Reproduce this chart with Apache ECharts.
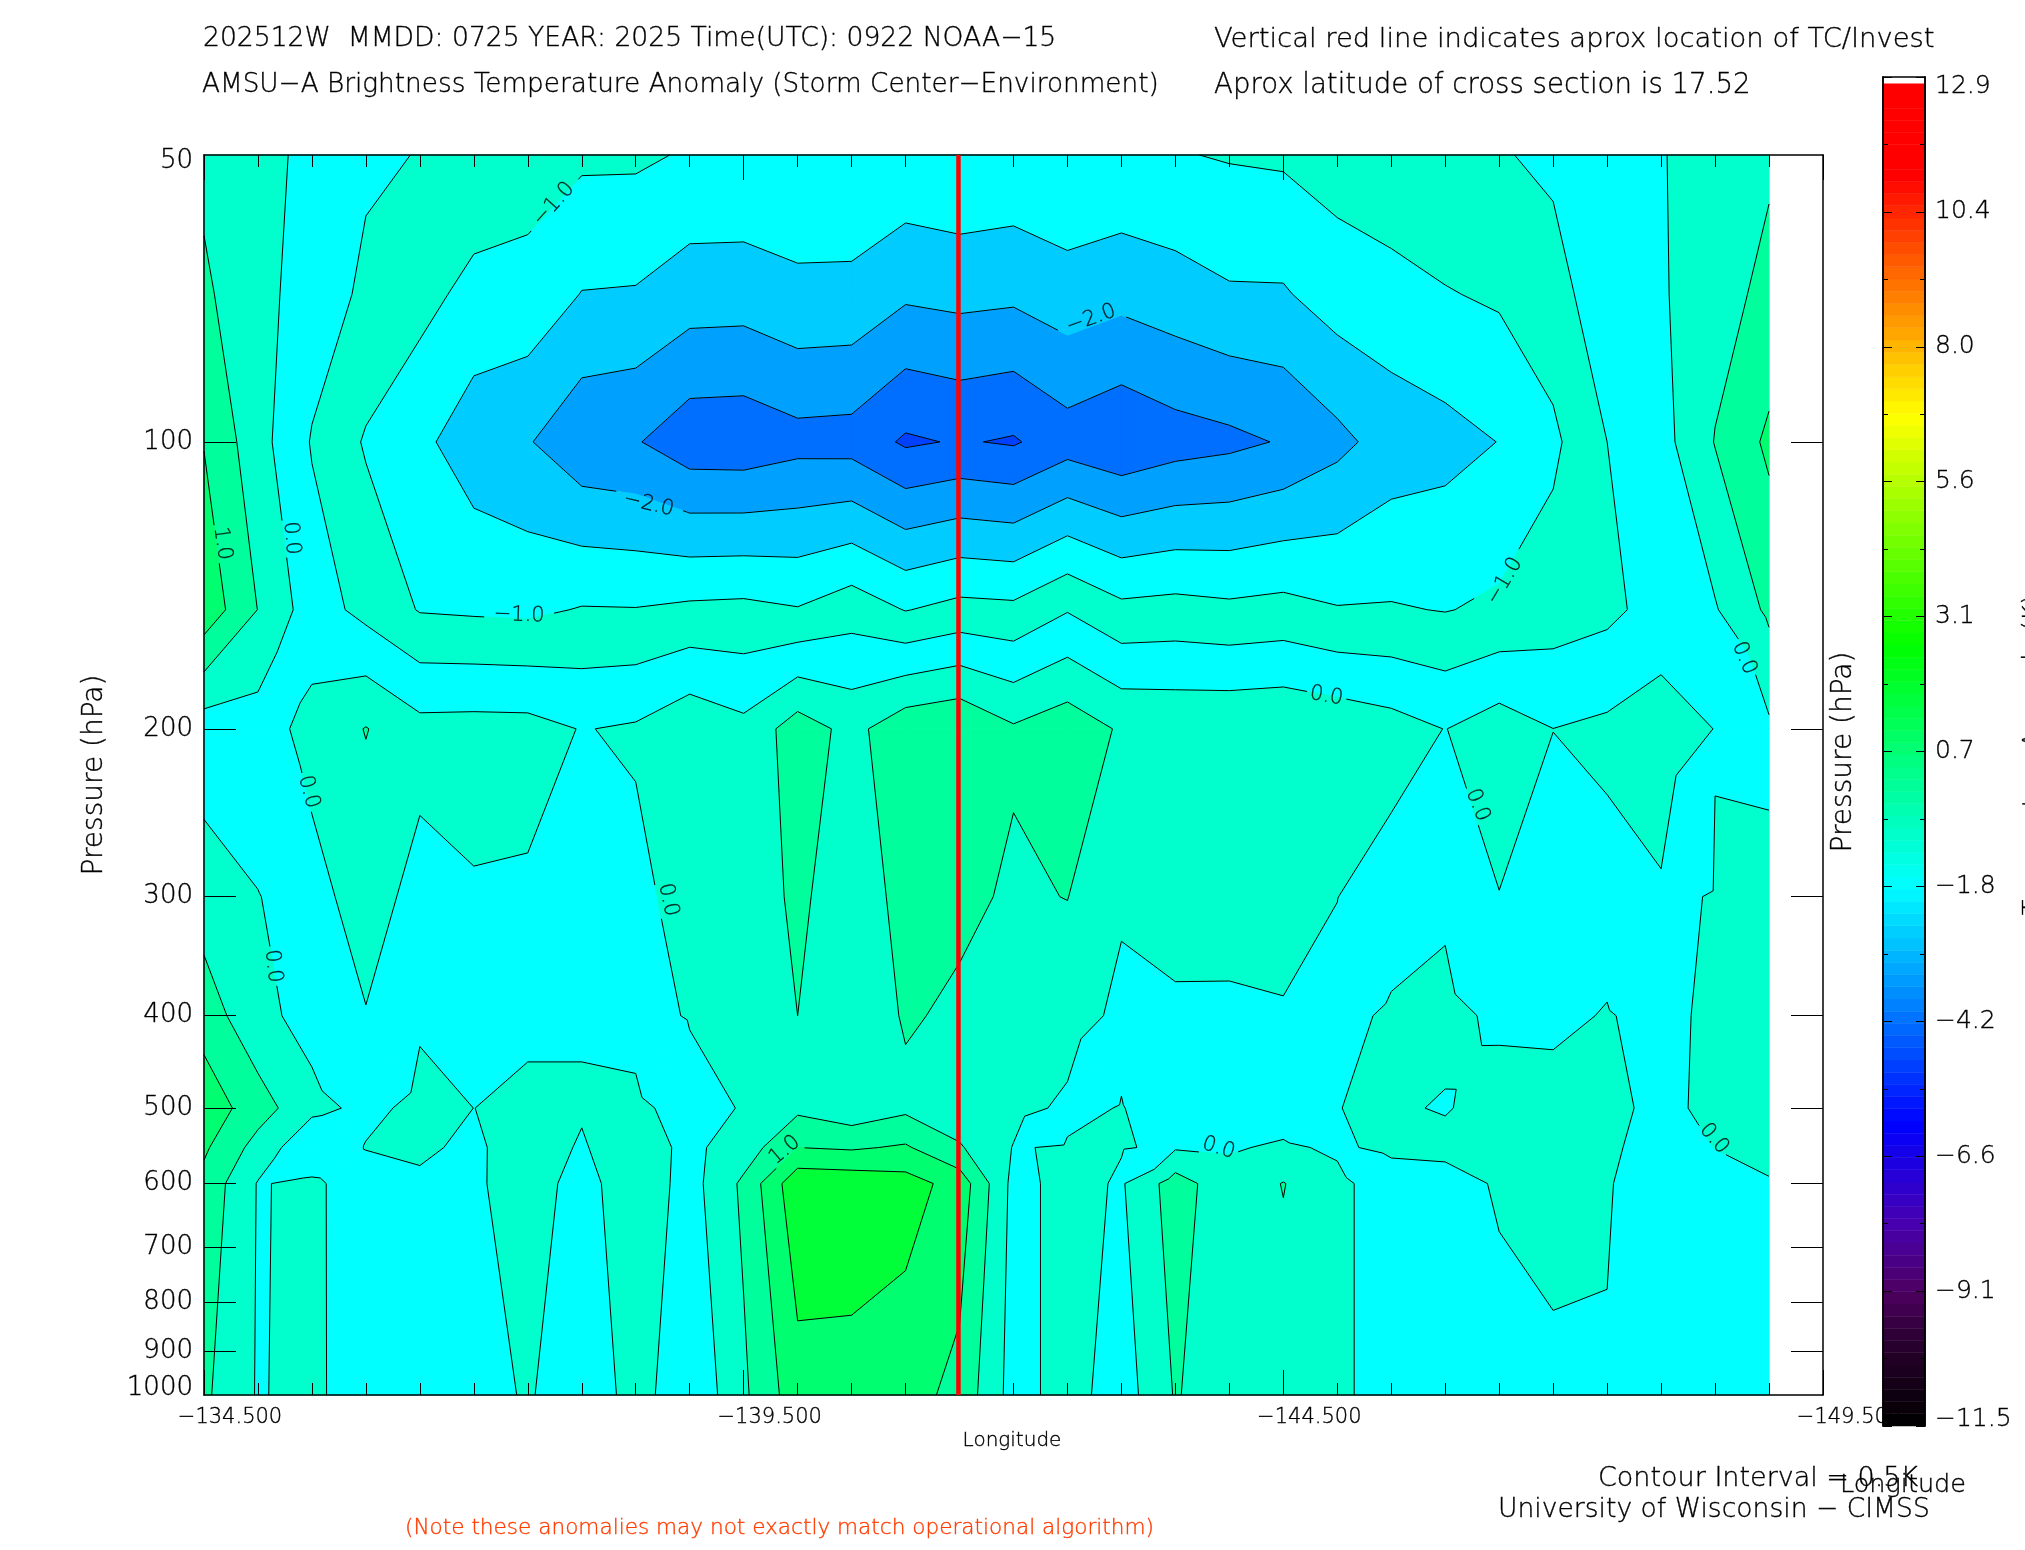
<!DOCTYPE html>
<html><head><meta charset="utf-8">
<style>html,body{margin:0;padding:0;background:#fff}#c{width:2025px;height:1550px}</style>
<script src="https://cdn.jsdelivr.net/npm/echarts@6/dist/echarts.min.js"></script>
</head><body><div id="c"></div>
<script>
// Longitude of each grid column, west-going
const lons = [-134.5,-135,-135.5,-136,-136.5,-137,-137.5,-138,-138.5,-139,-139.5,-140,-140.5,-141,-141.5,-142,-142.5,-143,-143.5,-144,-144.5,-145,-145.5,-146,-146.5,-147,-147.5,-148,-148.5,-149];
// Pressure levels (hPa) and the temperature anomaly (K) at each
const pressures = [50,70,100,150,200,300,400,500,550,600,1000];
const t50  = [.39,.14,-.11,-.43,-.515,-.62,-.777,-.91,-.915,-1.05,-1.045,-1.117,-1.07,-1.10,-1.03,-1.085,-1.02,-1.055,-1.03,-.963,-.925,-.79,-.62,-.58,-.54,-.4,-.18,-.03,.24,.435];
const t70  = [.58,.165,-.24,-.59,-.833,-1.154,-1.167,-1.517,-1.54,-1.756,-1.774,-1.61,-1.633,-1.92,-1.855,-1.9,-1.72,-1.85,-1.714,-1.556,-1.55,-1.257,-1.186,-1.03,-.93,-.7,-.19,-.056,.32,.62];
const t100 = [.98,.19,-.535,-1.05,-1.38,-1.78,-1.96,-2.37,-2.46,-2.81,-2.83,-2.67,-2.7,-3.07,-2.96,-3.05,-2.73,-2.91,-2.72,-2.62,-2.46,-2.14,-1.78,-1.67,-1.49,-1.1,-.5,-.18,.52,1.1];
const t150 = [1.34,.49,-.26,-.65,-1.03,-1.07,-1.1,-.97,-.98,-.9,-.87,-.97,-.71,-1.02,-.84,-.88,-.53,-.87,-.82,-.89,-.83,-.97,-.96,-1.02,-.91,-.745,-.62,-.3,-.04,.6];
const t200 = [-.27,-.22,.155,.52,.16,.18,.17,-.02,.06,.37,.13,.75,.35,.83,.96,.56,.8,.44,.4,.42,.45,.35,.2,-.01,.25,.002,.1,.25,-.01,-.08];
const t300 = [.23,.01,-.15,.2,-.15,-.04,-.06,-.1,-.13,.2,.05,.65,.05,.75,.6,.44,.51,.06,.15,.17,.2,.005,-.2,-.08,-.01,-.1,-.155,-.05,.015,.085];
const t400 = [.78,.12,-.15,-.02,-.05,-.04,-.04,-.03,-.1,.02,.1,.5,.15,.55,.42,.3,.2,-.1,-.06,-.07,-.04,-.1,.051,.115,-.08,-.07,.02,-.1,.08,.2];
const t500 = [1.3,.73,.12,-.1,.1,-.001,.04,.03,.06,-.11,.02,.39,.15,.39,.2,.14,-.08,.015,-.2,-.25,-.23,-.005,.05,-.03,.17,.12,.1,-.1,.1,.25];
const t550 = [1.08,.31,-.4,.02,.04,-.05,.15,-.03,.2,-.1,.22,1,.94,1.06,.55,-.02,.03,.02,-.05,-.04,.06,-.06,.09,.12,.15,.2,.05,-.12,.005,.12];
const t600 = [.85,-.03,.09,-.25,-.04,-.08,.25,-.2,.35,-.2,.6,1.87,1.83,1.71,1.3,-.15,.15,-.05,.74,.16,.52,.1,-.22,-.18,.05,.15,.02,-.15,-.1,-.03];
const t1000= [.59,-.04,.16,-.43,-.35,-.27,.07,-.45,.25,-.44,.41,1.3,1.3,1.2,.85,-.2,.2,-.25,.54,.17,.22,.1,-.22,-.3,-.17,-.1,-.02,-.2,-.15,-.1];
const rows = [t50,t70,t100,t150,t200,t300,t400,t500,t550,t600,t1000];

// Contour levels and fills as the source paints them
const contourLevels = [-3,-2.5,-2,-1.5,-1,-.5,0,.5,1,1.5];
const bandColors = ['#0040ff','#006eff','#00a0ff','#00ccff','#00ffff','#00ffcc','#00ffff','#00ffcc','#00ff9c','#00ff70','#00ff38'];

// Contour labels
const labelLons = [-137.74,-137.42,-138.62,-142.72,-134.67,-135.31,-135.47,-135.14,-138.8,-139.88,-144.9,-143.9,-146.3,-148.49,-146.55,-148.77];
const labelPres = [56.3,152,116.3,74.3,127.8,126.2,232.9,354.9,302.4,553.5,184.8,550.8,240.5,538.4,140,168.6];
const labelVals = [-1,-1,-2,-2,1,0,0,0,0,1,0,0,0,0,-1,0];
const labelRots = [48,-2,-13,20,-82,-85,-75,-83,-78,40,-10,-18,-68,-49,59,-66];

// Storm position
const stormLon = -141.49;

// Axes
const lonTicks = [-134.5,-135,-135.5,-136,-136.5,-137,-137.5,-138,-138.5,-139,-139.5,-140,-140.5,-141,-141.5,-142,-142.5,-143,-143.5,-144,-144.5,-145,-145.5,-146,-146.5,-147,-147.5,-148,-148.5,-149];
const lonMajor = [-134.5,-139.5,-144.5,-149.5];
const presTicks = [100,200,300,400,500,600,700,800,900];
const presLabels = [50,100,200,300,400,500,600,700,800,900,1000];
const barMajor = [-11.52,-9.08,-6.64,-4.2,-1.76,.68,3.12,5.56,8,10.44,12.88];
const barMinor = [-10.3,-7.86,-5.42,-2.98,-.54,1.9,4.34,6.78,9.22,11.66];
const barStops = [-11.52,-10,-9.1,-7.85,-6.06,-4.2,-1.75,.5,2.6,4.7,6.75,8.9,11.1,12.9];
const barColors = ['#000000','#2a0030','#4c0060','#4800b0','#0000ff','#0070ff','#00ffff','#00ff80','#00ff00','#80ff00','#ffff00','#ff8000','#ff0000','#ff0000'];

// Free text
const FONT = '"DejaVu Sans"';
const INK = {textBorderColor:'#000',textBorderWidth:.35};
const texts = [
 ['202512W  MMDD: 0725 YEAR: 2025 Time(UTC): 0922 NOAA\u221215',203,39.5,26.6,'#000',0,'left'],
 ['AMSU\u2212A Brightness Temperature Anomaly (Storm Center\u2212Environment)',202,85.5,26.3,'#000',0,'left'],
 ['Vertical red line indicates aprox location of TC/Invest',1214,39.5,27.4,'#000',0,'left'],
 ['Aprox latitude of cross section is 17.52',1214,85.5,27.6,'#000',0,'left'],
 ['Contour Interval = 0.5K',1598,1479,27,'#000',0,'left'],
 ['Longitude',1840,1485,25.5,'#000',0,'left'],
 ['University of Wisconsin \u2212 CIMSS',1498,1510,26.6,'#000',0,'left'],
 ['(Note these anomalies may not exactly match operational algorithm)',405,1528,21.6,'#ff3c00',0,'left'],
 ['Longitude',1012,1441,20,'#000',0,'center'],
 ['Pressure (hPa)',95,775,28,'#000',Math.PI/2,'center'],
 ['Pressure (hPa)',1844,752,28,'#000',Math.PI/2,'center'],
 ['Temperature Anomaly (K)',2033,755,25,'#000',Math.PI/2,'center']
];

const nC = lons.length, nR = pressures.length;
const cells = [];
for (let j=0;j<nR-1;j++) for (let i=0;i<nC-1;i++) cells.push([lons[i],Math.log10(pressures[j]),i,j]);

function cellPolys(api,i,j){
  const mk=(a,b)=>{const p=api.coord([lons[a],Math.log10(pressures[b])]);return {x:p[0],y:p[1],v:rows[b][a]};};
  const q=[mk(i,j),mk(i+1,j),mk(i+1,j+1),mk(i,j+1)];
  const alt=(q[0].v>q[1].v&&q[0].v>q[3].v&&q[2].v>q[1].v&&q[2].v>q[3].v)||(q[0].v<q[1].v&&q[0].v<q[3].v&&q[2].v<q[1].v&&q[2].v<q[3].v);
  if(!alt) return [q];
  const vs=q.map(o=>o.v), avg=(vs[0]+vs[1]+vs[2]+vs[3])/4, straddle=Math.min.apply(null,vs)<0&&Math.max.apply(null,vs)>0;
  // a saddle across zero keeps the cold channel open, except around the closed hole at 146 W, 500 hPa
  const warm=(i===23&&j===6);
  const c={x:(q[0].x+q[2].x)/2,y:(q[0].y+q[2].y)/2,v:(straddle&&!warm)?Math.min(avg,-.2):avg};
  return [[q[0],q[1],c],[q[1],q[2],c],[q[2],q[3],c],[q[3],q[0],c]];
}
function cross(a,b,L){const t=(L-a.v)/(b.v-a.v);return {x:a.x+(b.x-a.x)*t,y:a.y+(b.y-a.y)*t,v:L};}
function clip(poly,L,keepAbove){
  const out=[];
  for(let k=0;k<poly.length;k++){
    const a=poly[k],b=poly[(k+1)%poly.length];
    const ia=keepAbove?a.v>=L:a.v<=L, ib=keepAbove?b.v>=L:b.v<=L;
    if(ia) out.push(a);
    if(ia!==ib) out.push(cross(a,b,L));
  }
  return out;
}
function renderFill(params,api){
  const c=cells[params.dataIndex], polys=cellPolys(api,c[2],c[3]), children=[];
  polys.forEach(poly=>{
    for(let b=0;b<bandColors.length;b++){
      let p=poly;
      if(b>0) p=clip(p,contourLevels[b-1],true);
      if(p.length&&b<contourLevels.length) p=clip(p,contourLevels[b],false);
      if(p.length>2) children.push({type:'polygon',silent:true,shape:{points:p.map(o=>[o.x,o.y])},style:{fill:bandColors[b],stroke:bandColors[b],lineWidth:1}});
    }
  });
  return {type:'group',children};
}
function cutByCircle(a,b,c,r){
  const dx=b.x-a.x,dy=b.y-a.y,fx=a.x-c[0],fy=a.y-c[1];
  const A=dx*dx+dy*dy,B=2*(fx*dx+fy*dy),C=fx*fx+fy*fy-r*r,D=B*B-4*A*C;
  if(A===0||D<=0) return [[a,b]];
  const s=Math.sqrt(D),t1=(-B-s)/(2*A),t2=(-B+s)/(2*A);
  if(t1>=1||t2<=0) return [[a,b]];
  const P=t=>({x:a.x+dx*t,y:a.y+dy*t});
  const parts=[];
  if(t1>0) parts.push([a,P(t1)]);
  if(t2<1) parts.push([P(t2),b]);
  return parts;
}
function renderLines(params,api){
  const c=cells[params.dataIndex], polys=cellPolys(api,c[2],c[3]), children=[];
  polys.forEach(poly=>{
    contourLevels.forEach(L=>{
      const pts=[];
      for(let k=0;k<poly.length;k++){
        const a=poly[k],b=poly[(k+1)%poly.length];
        if((a.v<L)!==(b.v<L)) pts.push(cross(a,b,L));
      }
      if(pts.length<2) return;
      let segs=[[pts[0],pts[1]]];
      labelVals.forEach((lv,n)=>{
        if(lv!==L) return;
        const cp=api.coord([labelLons[n],Math.log10(labelPres[n])]), r=lv<0?35:20;
        let next=[]; segs.forEach(s=>{next=next.concat(cutByCircle(s[0],s[1],cp,r));}); segs=next;
      });
      segs.forEach(s=>children.push({type:'line',silent:true,shape:{x1:s[0].x,y1:s[0].y,x2:s[1].x,y2:s[1].y},style:{stroke:'#000',lineWidth:1}}));
    });
  });
  return {type:'group',children};
}
const rampRows=[]; for(let n=0;n<110;n++) rampRows.push(-11.52+n*0.2207);
function rampColor(v){
  for(let k=0;k<barStops.length-1;k++) if(v<=barStops[k+1]){
    return echarts.color.lerp((v-barStops[k])/(barStops[k+1]-barStops[k]),[barColors[k],barColors[k+1]]);
  }
  return barColors[barColors.length-1];
}
function renderBar(params,api){
  const v=rampRows[params.dataIndex], a=api.coord([0,v]), b=api.coord([1,v+0.2207]), col=rampColor(v+0.11);
  return {type:'rect',silent:true,shape:{x:a[0],y:b[1],width:b[0]-a[0],height:a[1]-b[1]},style:{fill:col,stroke:col,lineWidth:.5}};
}
const BLK={color:'#000',width:1.5};
const tickS=(len,vals)=>({show:true,inside:true,length:len,customValues:vals,lineStyle:{color:'#000',width:1}});
function xA(pos,vals,len,showLine,lab){
  return {type:'value',gridIndex:0,position:pos,min:-149.5,max:-134.5,inverse:true,z:10,splitLine:{show:false},
    axisLine:{show:showLine,lineStyle:BLK,onZero:false},axisTick:tickS(len,vals),
    axisLabel:lab?Object.assign({show:true,customValues:lonMajor,color:'#000',fontFamily:FONT,fontWeight:200,fontSize:21,margin:12,padding:[0,0,0,52],
      formatter:v=>(v<0?'\u2212':'')+Math.abs(v).toFixed(3)},INK):{show:false}};
}
const pmin=Math.log10(50),pmax=3;
function yA(pos,lab){
  return {type:'value',gridIndex:0,position:pos,min:pmin,max:pmax,inverse:true,z:10,splitLine:{show:false},
    axisLine:{show:true,lineStyle:BLK,onZero:false},axisTick:tickS(32,presTicks.map(p=>Math.log10(p))),
    axisLabel:lab?Object.assign({show:true,customValues:presLabels.map(p=>Math.log10(p)),color:'#000',fontFamily:FONT,fontWeight:200,fontSize:26,margin:11,lineHeight:13,
      verticalAlignMinLabel:'top',verticalAlignMaxLabel:'bottom',
      formatter:v=>String(Math.round(Math.pow(10,v)))},INK):{show:false}};
}
function barY(pos,vals,len,lab){
  return {type:'value',gridIndex:1,position:pos,min:-11.52,max:12.88,z:21,splitLine:{show:false},
    axisLine:{show:true,lineStyle:BLK,onZero:false},axisTick:tickS(len,vals),
    axisLabel:lab?Object.assign({show:true,customValues:barMajor,color:'#000',fontFamily:FONT,fontWeight:200,fontSize:25,margin:10,lineHeight:14,padding:[2,0,0,0],
      verticalAlignMinLabel:'bottom',verticalAlignMaxLabel:'top',
      formatter:v=>(v<0?'\u2212':'')+Math.abs(v).toFixed(1)},INK):{show:false}};
}
const chart=echarts.init(document.getElementById('c'),null,{renderer:'canvas'});
chart.setOption({
  animation:false,backgroundColor:'#fff',
  grid:[{left:204,top:155,width:1619,height:1240},{left:1883,top:77,width:42,height:1349}],
  xAxis:[xA('bottom',lonTicks,12,true,true),xA('bottom',lonMajor,25,false,false),xA('top',lonTicks,12,true,false),xA('top',lonMajor,25,false,false),
    {type:'value',gridIndex:1,position:'top',min:0,max:1,z:21,axisLine:{show:true,lineStyle:BLK,onZero:false},axisTick:{show:false},axisLabel:{show:false},splitLine:{show:false}}],
  yAxis:[yA('left',true),yA('right',false),barY('right',barMajor,9,true),barY('right',barMinor,5,false),barY('left',barMajor,9,false),barY('left',barMinor,5,false)],
  series:[
    {type:'custom',xAxisIndex:0,yAxisIndex:0,z:2,silent:true,renderItem:renderFill,data:cells,encode:{x:0,y:1}},
    {type:'custom',xAxisIndex:0,yAxisIndex:0,z:3,silent:true,renderItem:renderLines,data:cells,encode:{x:0,y:1}},
    {type:'scatter',xAxisIndex:0,yAxisIndex:0,z:8,silent:true,symbolSize:1,itemStyle:{color:'rgba(0,0,0,0)'},
      data:labelVals.map((v,n)=>({value:[labelLons[n],Math.log10(labelPres[n])],
        label:Object.assign({show:true,position:'inside',rotate:labelRots[n],formatter:(v<0?'\u2212':'')+Math.abs(v).toFixed(1),color:'#000',fontFamily:FONT,fontWeight:200,fontSize:21},INK)}))},
    {type:'line',xAxisIndex:0,yAxisIndex:0,z:15,silent:true,showSymbol:false,lineStyle:{color:'#ff0000',width:4.5},data:[[stormLon,pmin],[stormLon,pmax]]},
    {type:'custom',xAxisIndex:4,yAxisIndex:2,z:20,silent:true,renderItem:renderBar,data:rampRows.map(v=>[0.5,v]),encode:{x:0,y:1}}
  ],
  graphic:texts.map(t=>({type:'text',x:t[1],y:t[2],rotation:t[5],silent:true,z:30,
    style:{text:t[0],fill:t[4],stroke:t[4],lineWidth:.35,fontFamily:FONT,fontWeight:200,fontSize:t[3],textAlign:t[6],textVerticalAlign:'middle'}}))
});
</script></body></html>
